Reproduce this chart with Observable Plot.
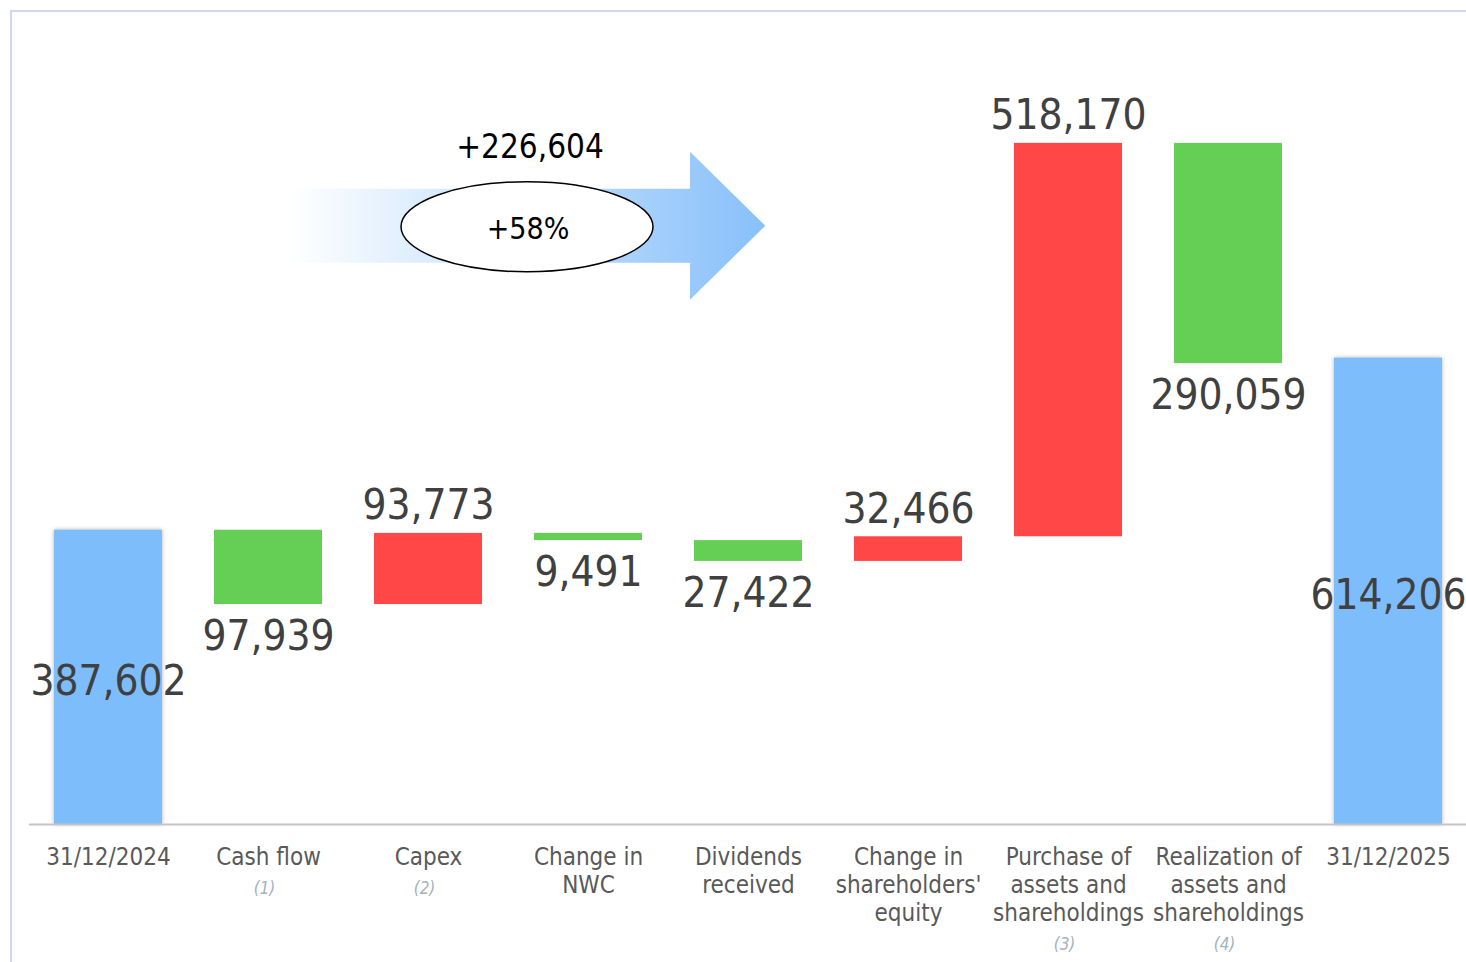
<!DOCTYPE html>
<html><head><meta charset="utf-8">
<script src="https://cdn.jsdelivr.net/npm/d3@7"></script>
<script src="https://cdn.jsdelivr.net/npm/@observablehq/plot@0.6"></script>
<style>
html,body{margin:0;padding:0;background:#fff;overflow:hidden}
#frame{position:absolute;left:10px;top:10px;width:1600px;height:1100px;border-top:2px solid #cfd9e8;border-left:2px solid #cfd9e8;pointer-events:none}
#chart{position:absolute;left:0;top:0}
</style></head><body>
<div id="chart"></div><div id="frame"></div>
<script>
// ---- data ----
const categories = [
  "31/12/2024",
  "Cash flow",
  "Capex",
  "Change in\nNWC",
  "Dividends\nreceived",
  "Change in\nshareholders'\nequity",
  "Purchase of\nassets and\nshareholdings",
  "Realization of\nassets and\nshareholdings",
  "31/12/2025"
];
const values = [387602, -97939, 93773, -9491, -27422, 32466, 518170, -290059, 614206];
const kinds = ["total", "delta", "delta", "delta", "delta", "delta", "delta", "delta", "total"];
const notes = ["", "(1)", "(2)", "", "", "", "(3)", "(4)", ""];

// ---- styles ----
const BLUE = "#7dbdfc", GREEN = "#64ce55", RED = "#ff4747";
const FONT = "'DejaVu Sans Condensed', 'DejaVu Sans', sans-serif";
const fmt = d3.format(",");

let running = 0;
const rows = categories.map((cat, i) => {
  const v = values[i];
  let y1, y2;
  if (kinds[i] === "total") { y1 = 0; y2 = v; running = v; }
  else { y1 = running; y2 = running + v; running += v; }
  const color = kinds[i] === "total" ? BLUE : (v > 0 ? RED : GREEN);
  const pos = kinds[i] === "total" ? "mid" : (v > 0 ? "up" : "down");
  return {cat, v, y1, y2, color, pos, note: notes[i], label: fmt(Math.abs(v)),
          lines: cat.split("\n").length,
          yMid: (y1 + y2) / 2, yTop: Math.max(y1, y2), yBot: Math.min(y1, y2)};
});
const totals = rows.filter(d => d.pos === "mid");
const deltas = rows.filter(d => d.pos !== "mid");

const noteMarks = [1, 2, 3].map(n => Plot.text(rows.filter(d => d.note && d.lines === n), {
  x: "cat", y: 0, text: "note", lineAnchor: "middle", dy: 64 + (n - 1) * 28, dx: -4,
  fontSize: 17, fontStyle: "italic", fill: "#a3b3bb"
}));

const chart = Plot.plot({
  width: 1466, height: 962,
  marginTop: 20, marginBottom: 138, marginLeft: 29, marginRight: 0,
  style: {fontFamily: FONT, background: "transparent", overflow: "visible"},
  x: {domain: categories, range: [28, 1468], paddingInner: 0.325, paddingOuter: 0.1625, round: false, axis: null},
  y: {domain: [0, 1059000], axis: null},
  color: {type: "identity"},
  marks: [
    Plot.barY(totals, {x: "cat", y1: "y1", y2: "y2", fill: BLUE}),
    Plot.barY(deltas, {x: "cat", y1: "y1", y2: "y2", fill: "color"}),
    Plot.ruleY([0], {stroke: "#c4c4c4", strokeWidth: 2.2}),
    Plot.text(totals, {x: "cat", y: "yMid", text: "label", lineAnchor: "middle", dy: 4, fontSize: 42, fill: "#404040"}),
    Plot.text(rows.filter(d => d.pos === "up"), {x: "cat", y: "yTop", text: "label", lineAnchor: "bottom", dy: -14, fontSize: 42, fill: "#404040"}),
    Plot.text(rows.filter(d => d.pos === "down"), {x: "cat", y: "yBot", text: "label", lineAnchor: "top", dy: 16, fontSize: 42, fill: "#404040"}),
    Plot.text(rows, {x: "cat", y: 0, text: "cat", lineAnchor: "top", dy: 21, lineHeight: 1.165, fontSize: 24, fill: "#595959"}),
    ...noteMarks
  ]
});
document.getElementById("chart").appendChild(chart);

// shadow on the total bars
d3.select(chart).selectAll("g[aria-label='bar']").filter((d, i) => i === 0)
  .style("filter", "drop-shadow(0px 0px 2px rgba(0,0,0,0.3))");

// ---- change arrow annotation (placed through the chart's scales) ----
const xs = chart.scale("x"), ys = chart.scale("y");
const bw = xs.bandwidth;
const delta = values[values.length - 1] - values[0];
const pct = delta / values[0];
const x0 = xs.apply(categories[1]) + 0.7 * bw;
const xHead = xs.apply(categories[4]) - 4;
const xTip = xs.apply(categories[4]) + 0.66 * bw;
const yc = ys.apply(788000);
const sh = 37, hh = 74;
const svg = d3.select(chart);
const defs = svg.insert("defs", ":first-child");
const grad = defs.append("linearGradient").attr("id", "arrowGrad")
  .attr("gradientUnits", "userSpaceOnUse").attr("x1", x0).attr("x2", xTip).attr("y1", 0).attr("y2", 0);
grad.append("stop").attr("offset", 0).attr("stop-color", "#ffffff");
grad.append("stop").attr("offset", 0.35).attr("stop-color", "#d4e8fd");
grad.append("stop").attr("offset", 1).attr("stop-color", "#88c0fa");
const g = svg.append("g");
g.append("path")
  .attr("d", `M${x0},${yc - sh}L${xHead},${yc - sh}L${xHead},${yc - hh}L${xTip},${yc}L${xHead},${yc + hh}L${xHead},${yc + sh}L${x0},${yc + sh}Z`)
  .attr("fill", "url(#arrowGrad)");
const ecx = xs.apply(categories[3]) - 7;
g.append("ellipse").attr("cx", ecx).attr("cy", yc + 1).attr("rx", 126).attr("ry", 45)
  .attr("fill", "#fff").attr("stroke", "#000").attr("stroke-width", 1.5);
g.append("text").attr("x", ecx + 1).attr("y", yc + 13).attr("text-anchor", "middle")
  .attr("font-family", FONT).attr("font-size", 30).attr("fill", "#000")
  .text("+" + Math.round(pct * 100) + "%");
g.append("text").attr("x", ecx + 3).attr("y", yc - 68).attr("text-anchor", "middle")
  .attr("font-family", FONT).attr("font-size", 33).attr("fill", "#000")
  .text("+" + fmt(delta));
</script>
</body></html>
